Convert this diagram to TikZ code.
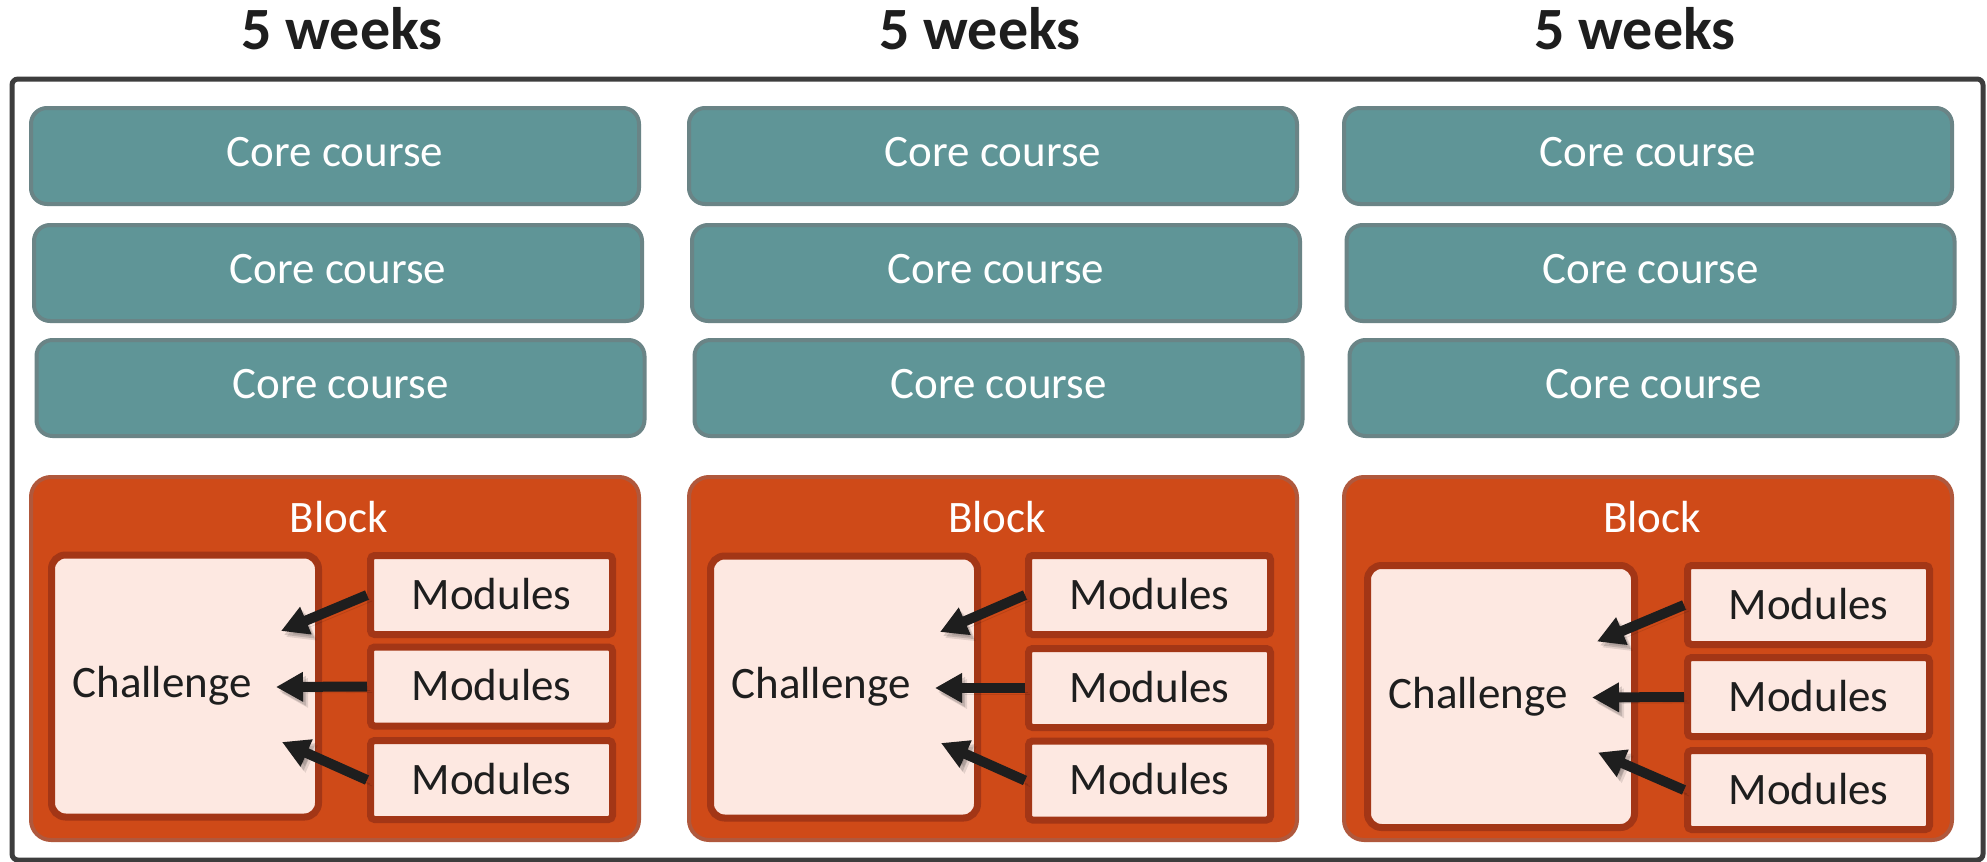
\documentclass[tikz,border=0pt]{standalone}
\usepackage{fontspec}
\setmainfont{Carlito}
\usetikzlibrary{arrows.meta,calc}
\definecolor{coreFill}{HTML}{5F9597}
\definecolor{coreLine}{HTML}{6A8486}
\definecolor{blockFill}{HTML}{CF4A18}
\definecolor{blockLine}{HTML}{B0583C}
\definecolor{innerFill}{HTML}{FDE8E1}
\definecolor{innerLine}{HTML}{A33616}
\definecolor{txtCol}{HTML}{1E1E1E}
\definecolor{frameCol}{HTML}{3D3D3D}
\begin{document}
\begin{tikzpicture}[x=0.5pt,y=-0.5pt,
  txt/.style={font=\fontsize{22.5}{27}\selectfont},
  core/.style={txt,draw=coreLine,fill=coreFill,line width=2pt,rounded corners=8pt,
    minimum width=304pt,minimum height=48pt,text=white,inner sep=0pt,text depth=4pt},
  blockbox/.style={draw=blockLine,fill=blockFill,line width=2pt,rounded corners=10pt,
    minimum width=304pt,minimum height=181.5pt,inner sep=0pt},
  chal/.style={txt,draw=innerLine,fill=innerFill,line width=3.5pt,rounded corners=7pt,
    minimum width=133.5pt,minimum height=131pt,text=txtCol,inner sep=0pt},
  modbox/.style={txt,draw=innerLine,fill=innerFill,line width=3.5pt,rounded corners=2pt,
    minimum width=121pt,minimum height=39.5pt,text=txtCol,inner sep=0pt,text depth=1.5pt},
  blbl/.style={txt,text=white,inner sep=0pt},
  title/.style={font=\fontsize{30}{36}\selectfont\bfseries,text=txtCol,inner sep=0pt,anchor=base},
  arr/.style={-{Triangle[length=13.5pt,width=14pt]},line width=5pt,draw=txtCol,
    preaction={draw=black,opacity=0.10,transform canvas={shift={(2.5pt,-3pt)}}},
    preaction={draw=black,opacity=0.14,transform canvas={shift={(1.5pt,-2pt)}}}},
  frame/.style={draw=frameCol,line width=2.5pt,rounded corners=3pt}
]
\useasboundingbox (0,0) rectangle (1987,862);
\fill[white] (0,0) rectangle (1987,862);

% titles
\node[title] (t1) at (342,49) {5 weeks};
\node[title] (t2) at (980,49) {5 weeks};
\node[title] (t3) at (1635,49) {5 weeks};

% outer frame
\draw[frame] (12,79) rectangle (1983,860);

% core courses
\node[core] (c11) at (335,156) {Core course};
\node[core] (c12) at (338,273) {Core course};
\node[core] (c13) at (340.5,388) {Core course};
\node[core] (c21) at (993,156) {Core course};
\node[core] (c22) at (996,273) {Core course};
\node[core] (c23) at (998.5,388) {Core course};
\node[core] (c31) at (1648,156) {Core course};
\node[core] (c32) at (1650.5,273) {Core course};
\node[core] (c33) at (1653.5,388) {Core course};

% blocks
\node[blockbox] (b1) at (335,658.5) {};
\node[blockbox] (b2) at (993,658.5) {};
\node[blockbox] (b3) at (1648,658.5) {};
\node[blbl] (bl1) at (339,517) {Block};
\node[blbl] (bl2) at (997,517) {Block};
\node[blbl] (bl3) at (1652,517) {Block};

% challenges
\node[chal] (ch1) at (185,686) {Challenge\hspace*{23pt}};
\node[chal] (ch2) at (844,687) {Challenge\hspace*{23pt}};
\node[chal] (ch3) at (1501,696.5) {Challenge\hspace*{23pt}};

% modules
\node[modbox] (m11) at (491.5,595) {Modules};
\node[modbox] (m12) at (491.5,686.5) {Modules};
\node[modbox] (m13) at (491.5,780) {Modules};
\node[modbox] (m21) at (1149.5,595) {Modules};
\node[modbox] (m22) at (1149.5,688) {Modules};
\node[modbox] (m23) at (1149.5,780.5) {Modules};
\node[modbox] (m31) at (1808.5,605) {Modules};
\node[modbox] (m32) at (1808.5,697) {Modules};
\node[modbox] (m33) at (1808.5,790) {Modules};

% arrows
\foreach \i in {1,2,3}{
  \draw[arr] (m\i1.west) -- ($(ch\i.center)+(48pt,27.5pt)$);
  \draw[arr] (m\i2.west) -- ($(ch\i.center)+(45.5pt,-0.5pt)$);
  \draw[arr] (m\i3.west) -- ($(ch\i.center)+(48.5pt,-28pt)$);
}
\end{tikzpicture}
\end{document}
